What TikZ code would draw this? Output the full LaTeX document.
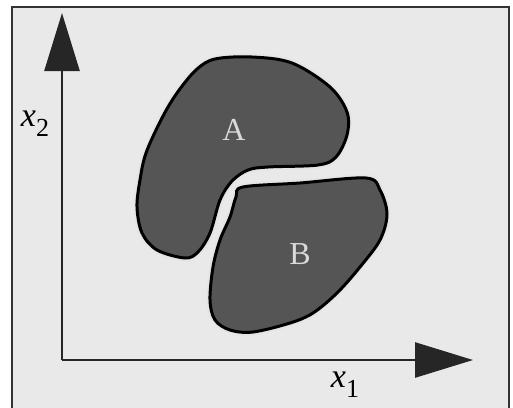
\documentclass[tikz,border=0pt]{standalone}
\usepackage{fontspec}
\setmainfont{Liberation Serif}
\usetikzlibrary{arrows.meta}
\definecolor{paper}{HTML}{E9E9E9}
\definecolor{blobgray}{HTML}{555555}

\begin{document}
\begin{tikzpicture}[x=1pt, y=-1pt,
    axis/.style={line width=2.6pt, -{Triangle[length=58pt, width=35pt]}, draw=black!85},
    blob/.style={fill=blobgray, draw=black, line width=3pt, smooth cycle, tension=0.55,
                 preaction={draw=white!90!black, line width=7pt}},
    lbl/.style={font=\fontsize{32}{36}\selectfont, text=white!85!black},
    axlbl/.style={font=\fontsize{34}{38}\selectfont},
]
\useasboundingbox (0,0) rectangle (513,407);
\fill[white] (0,0) rectangle (513,407);
\fill[paper] (12,7) rectangle (509,410);
\draw[line width=2pt, black!80] (12,410) -- (12,7) -- (509,7) -- (509,410);

% regions
\draw[blob] plot coordinates {(215,59) (252,57) (292,63) (330,87) (347,112) (347,135)
    (336,157) (318,165) (268,167) (248,170) (232,181) (220,200) (210,233) (198,252)
    (185,258) (157,250) (142,233) (137,207) (140,180) (146,153) (162,118) (177,93) (196,70)};
\draw[blob] plot coordinates {(243,187) (300,183) (366,178) (380,190) (387,214) (380,240)
    (360,267) (337,293) (313,313) (290,323) (253,332) (230,330) (215,320) (210,300)
    (213,267) (220,240) (230,217) (236,197)};
\node[lbl] (labA) at (234,130) {A};
\node[lbl] (labB) at (300,254) {B};

% axes
\coordinate (origin) at (62,360);
\coordinate (ytip) at (62,13);
\coordinate (xtip) at (473,360);
\draw[axis] (origin) -- (ytip);
\draw[axis] (origin) -- (xtip);
\node[axlbl] (labx2) at (35,124) {\textit{x}\raisebox{-.3em}{\fontsize{26}{30}\selectfont 2}};
\node[axlbl] (labx1) at (345,385) {\textit{x}\raisebox{-.3em}{\fontsize{26}{30}\selectfont 1}};
\end{tikzpicture}
\end{document}
